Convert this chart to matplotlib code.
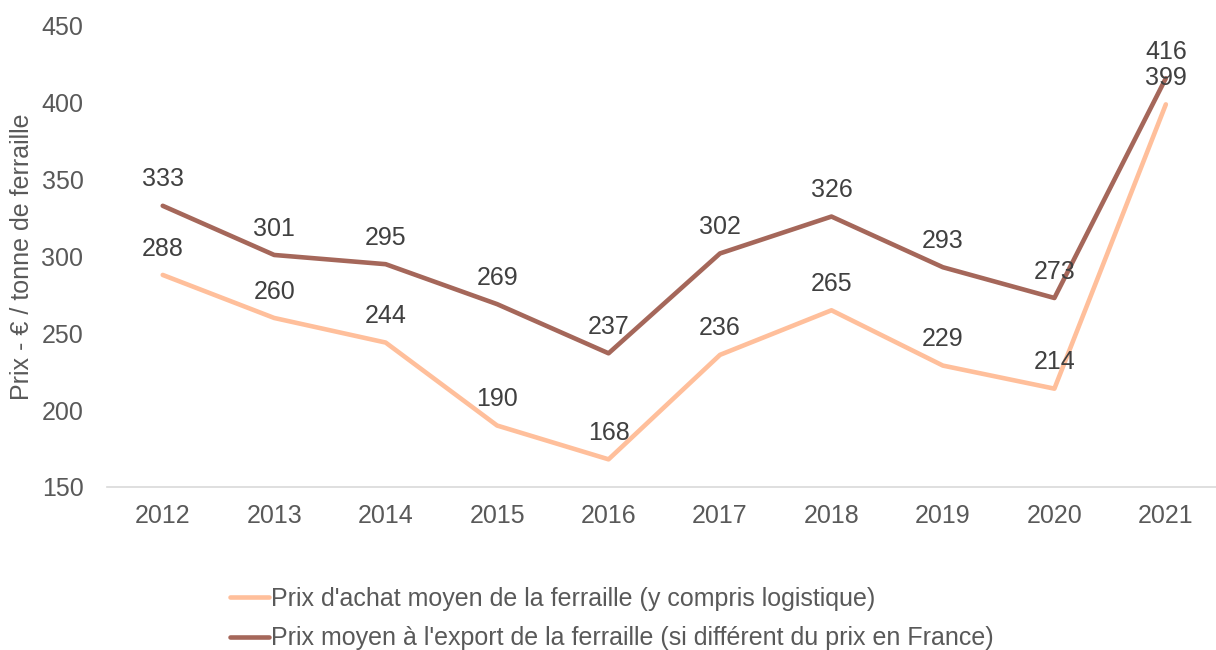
import matplotlib
matplotlib.use("Agg")
import matplotlib.pyplot as plt

years = ["2012", "2013", "2014", "2015", "2016", "2017", "2018", "2019", "2020", "2021"]
achat = [288, 260, 244, 190, 168, 236, 265, 229, 214, 399]
export = [333, 301, 295, 269, 237, 302, 326, 293, 273, 416]
series_names = ["Prix d'achat moyen de la ferraille (y compris logistique)",
                "Prix moyen à l'export de la ferraille (si différent du prix en France)"]
y_label = "Prix - € / tonne de ferraille"
y_ticks = [150, 200, 250, 300, 350, 400, 450]

plt.rcParams['font.family'] = ['Liberation Sans', 'DejaVu Sans']

W, H = 1216, 650
fig = plt.figure(figsize=(W / 100, H / 100), dpi=100)
left, right, top, bottom = 107, 1216, 26, 487
ax = fig.add_axes([left / W, 1 - bottom / H, (right - left) / W, (bottom - top) / H])

c_light = "#FFBF9B"
c_dark = "#A5675A"
x = list(range(len(years)))
ax.plot(x, achat, color=c_light, lw=3.3, solid_capstyle='round', label=series_names[0], clip_on=False)
ax.plot(x, export, color=c_dark, lw=3.3, solid_capstyle='round', label=series_names[1], clip_on=False)

fs = 18
for xi, v in zip(x, achat):
    ax.annotate(str(v), (xi, v), xytext=(0, 19), textcoords='offset points',
                ha='center', va='center', fontsize=fs, color='#404040')
for xi, v in zip(x, export):
    ax.annotate(str(v), (xi, v), xytext=(0, 19), textcoords='offset points',
                ha='center', va='center', fontsize=fs, color='#404040')

ax.set_xlim(-0.5, 9.45)
ax.set_ylim(150, 450)
ax.set_yticks(y_ticks)
ax.set_xticks(x)
ax.set_xticklabels(years)
ax.tick_params(axis='both', length=0, labelsize=fs, colors='#595959')
ax.tick_params(axis='x', pad=12)
ax.tick_params(axis='y', pad=17)
for s in ['top', 'right', 'left']:
    ax.spines[s].set_visible(False)
ax.spines['bottom'].set_color('#D9D9D9')
ax.spines['bottom'].set_linewidth(1.2)
ax.set_ylabel(y_label, fontsize=fs, color='#595959')
ax.yaxis.set_label_coords(-73 / (right - left), 0.5)

leg = fig.legend(loc='upper left', bbox_to_anchor=(230 / W, 1 - 587 / H), frameon=False,
                 fontsize=fs, handlelength=1.55, handletextpad=0.1, labelspacing=0.62,
                 borderpad=0, borderaxespad=0)
for t in leg.get_texts():
    t.set_color('#595959')

fig.savefig("out.png", dpi=100)
